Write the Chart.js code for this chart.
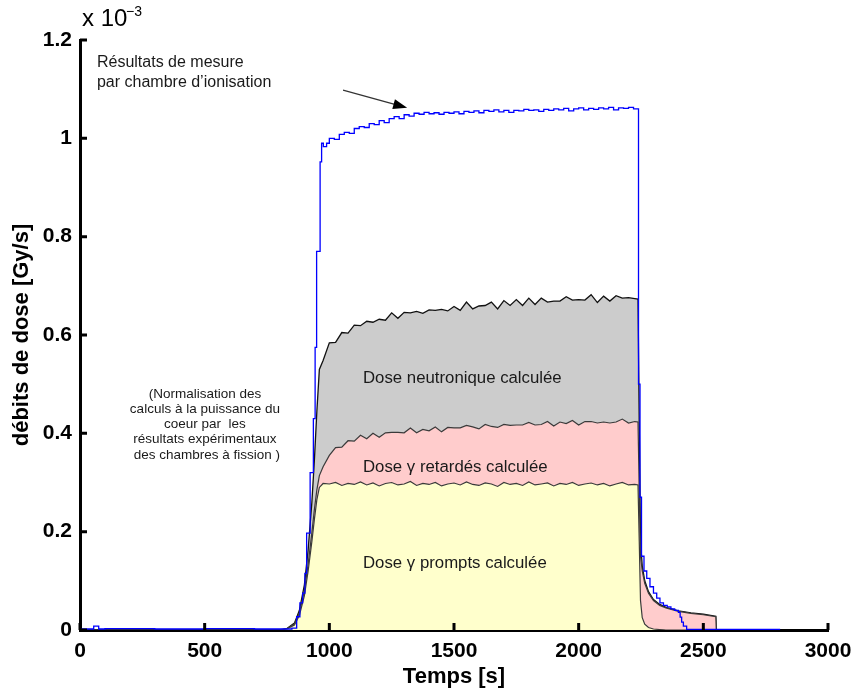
<!DOCTYPE html>
<html lang="fr">
<head>
<meta charset="utf-8">
<title>Débits de dose</title>
<script src="https://cdn.jsdelivr.net/npm/chart.js@4.4.1/dist/chart.umd.min.js"></script>
<style>
  body { margin: 0; background: #fff; }
</style>
</head>
<body>
<canvas id="graphe" width="854" height="692"></canvas>
<script>
// débits de dose en 1e-3 Gy/s, temps en s

const xTicks = [0, 500, 1000, 1500, 2000, 2500, 3000];
const xTickLabels = ['0', '500', '1000', '1500', '2000', '2500', '3000'];
const yTicks = [0, 0.2, 0.4, 0.6, 0.8, 1, 1.2];
const yTickLabels = ['0', '0.2', '0.4', '0.6', '0.8', '1', '1.2'];

// instants des calculs
const tCalc = [0, 800, 830, 860, 880, 900, 915, 930, 940, 950, 960, 975,
  1000, 1025, 1050, 1075, 1100, 1125, 1150, 1175, 1200, 1225,
  1250, 1275, 1300, 1325, 1350, 1375, 1400, 1425, 1450, 1475,
  1500, 1525, 1550, 1575, 1600, 1625, 1650, 1675, 1700, 1725,
  1750, 1775, 1800, 1825, 1850, 1875, 1900, 1925, 1950, 1975,
  2000, 2025, 2050, 2075, 2100, 2125, 2150, 2175, 2200, 2225,
  2238, 2243, 2248, 2255, 2265, 2280, 2300, 2325, 2350, 2400, 2450, 2500, 2550, 2552];

// dose gamma prompts
const gammaPrompts = [0, 0, 0.002, 0.01, 0.03, 0.07, 0.12, 0.18, 0.225, 0.265, 0.29, 0.298,
  0.297, 0.300, 0.294, 0.298, 0.296, 0.301, 0.295, 0.299, 0.293, 0.298,
  0.300, 0.295, 0.297, 0.302, 0.294, 0.298, 0.296, 0.300, 0.293, 0.297,
  0.299, 0.295, 0.301, 0.296, 0.294, 0.299, 0.297, 0.292, 0.300, 0.296,
  0.298, 0.294, 0.301, 0.295, 0.297, 0.299, 0.293, 0.298, 0.296, 0.300,
  0.294, 0.297, 0.299, 0.295, 0.298, 0.293, 0.297, 0.300, 0.295, 0.296,
  0.295, 0.18, 0.06, 0.025, 0.012, 0.005, 0.002, 0.001, 0, 0, 0, 0, 0, 0];

// dose gamma retardés
const gammaRetardes = [0, 0, 0.0005, 0.002, 0.005, 0.01, 0.014, 0.018, 0.02, 0.02, 0.024, 0.034,
  0.058, 0.071, 0.078, 0.087, 0.088, 0.095, 0.094, 0.101, 0.099, 0.103,
  0.102, 0.107, 0.104, 0.109, 0.107, 0.110, 0.109, 0.113, 0.110, 0.115,
  0.112, 0.116, 0.115, 0.117, 0.115, 0.119, 0.117, 0.120, 0.118, 0.120,
  0.119, 0.123, 0.121, 0.122, 0.121, 0.125, 0.122, 0.125, 0.124, 0.126,
  0.123, 0.127, 0.125, 0.126, 0.125, 0.128, 0.126, 0.129, 0.126, 0.128,
  0.128, 0.1, 0.09, 0.095, 0.083, 0.07, 0.058, 0.049, 0.045, 0.038, 0.034, 0.031, 0.027, 0];

// dose neutronique
const neutrons = [0, 0, 0.0005, 0.002, 0.005, 0.012, 0.029, 0.062, 0.1, 0.16, 0.216, 0.216,
  0.229, 0.214, 0.233, 0.219, 0.236, 0.223, 0.239, 0.226, 0.240, 0.229,
  0.243, 0.232, 0.245, 0.234, 0.247, 0.236, 0.246, 0.237, 0.249, 0.237,
  0.247, 0.239, 0.251, 0.240, 0.250, 0.242, 0.253, 0.241, 0.252, 0.244,
  0.255, 0.243, 0.253, 0.245, 0.257, 0.243, 0.254, 0.246, 0.258, 0.245,
  0.255, 0.247, 0.258, 0.245, 0.256, 0.248, 0.257, 0.246, 0.255, 0.250,
  0.25, 0.14, 0.03, 0.01, 0.005, 0.003, 0.002, 0.002, 0.001, 0.001, 0.001, 0.001, 0.001, 0];

// chambre d'ionisation
const tMesure = [0, 55, 75, 100, 300, 500, 700, 850, 869, 882, 893, 902, 909, 923, 936, 943, 949, 963, 969, 976, 989,
  1000, 1020, 1040, 1060, 1080, 1100, 1120, 1140, 1160, 1180,
  1200, 1220, 1240, 1260, 1280, 1300, 1320, 1340, 1360, 1380,
  1400, 1420, 1440, 1460, 1480, 1500, 1520, 1540, 1560, 1580,
  1600, 1620, 1640, 1660, 1680, 1700, 1720, 1740, 1760, 1780,
  1800, 1820, 1840, 1860, 1880, 1900, 1920, 1940, 1960, 1980,
  2000, 2020, 2040, 2060, 2080, 2100, 2120, 2140, 2160, 2180,
  2200, 2220,
  2240, 2246, 2252, 2262, 2273, 2286, 2300, 2313, 2326, 2340, 2355, 2370, 2385, 2400, 2407, 2413, 2420, 2433, 2808];
const mesure = [0.002, 0.008, 0.002, 0.003, 0.002, 0.003, 0.002, 0.004, 0.027, 0.055, 0.075, 0.115, 0.197, 0.32, 0.43, 0.575, 0.77, 0.952, 0.99, 0.983, 0.99,
  1.000, 0.998, 1.008, 1.012, 1.010, 1.020, 1.024, 1.022, 1.030, 1.028,
  1.036, 1.032, 1.040, 1.044, 1.040, 1.048, 1.045, 1.051, 1.049, 1.053,
  1.050, 1.052, 1.049, 1.053, 1.051, 1.054, 1.050, 1.055, 1.053, 1.056,
  1.052, 1.057, 1.055, 1.058, 1.054, 1.057, 1.053, 1.057, 1.056, 1.059,
  1.057, 1.058, 1.055, 1.059, 1.057, 1.060, 1.058, 1.061, 1.056, 1.060,
  1.062, 1.058, 1.061, 1.059, 1.062, 1.060, 1.063, 1.058, 1.062, 1.061,
  1.063, 1.060,
  0.50, 0.27, 0.15, 0.12, 0.105, 0.088, 0.075, 0.065, 0.055, 0.05, 0.047, 0.043, 0.04, 0.036, 0.026, 0.016, 0.008, 0.001, 0.001];

const pts = (ts, vs) => ts.map((t, i) => ({ x: t, y: vs[i] }));

const police = '"Liberation Sans", Arial, sans-serif';

// graduations vers l'intérieur, textes et flèche
const habillage = {
  id: 'habillage',
  afterDraw(chart) {
    const { ctx, chartArea: a, scales: { x, y } } = chart;
    ctx.save();
    ctx.strokeStyle = '#000';
    ctx.lineWidth = 3;
    ctx.beginPath();
    xTicks.forEach(v => {
      const px = x.getPixelForValue(v);
      ctx.moveTo(px, a.bottom);
      ctx.lineTo(px, a.bottom - 7);
    });
    yTicks.forEach(v => {
      const py = y.getPixelForValue(v);
      ctx.moveTo(a.left, py);
      ctx.lineTo(a.left + 7, py);
    });
    ctx.stroke();

    // facteur d'échelle
    ctx.fillStyle = '#000';
    ctx.textBaseline = 'middle';
    ctx.textAlign = 'left';
    ctx.font = '24px ' + police;
    ctx.fillText('x 10', a.left + 2, a.top - 21);
    ctx.font = '14px ' + police;
    ctx.fillText('\u22123', a.left + 46, a.top - 28);

    ctx.fillStyle = '#1a1a1a';
    ctx.font = '16px ' + police;
    ctx.fillText('Résultats de mesure', x.getPixelForValue(68), y.getPixelForValue(1.155));
    ctx.fillText('par chambre d\u2019ionisation', x.getPixelForValue(68), y.getPixelForValue(1.114));

    ctx.font = '16.8px ' + police;
    const xd = x.getPixelForValue(1135);
    ctx.fillText('Dose neutronique calculée', xd, y.getPixelForValue(0.512));
    ctx.fillText('Dose \u03b3 retardés calculée', xd, y.getPixelForValue(0.331));
    ctx.fillText('Dose \u03b3 prompts calculée', xd, y.getPixelForValue(0.136));

    ctx.textAlign = 'center';
    ctx.font = '13.5px ' + police;
    const xn = x.getPixelForValue(501);
    const lignes = ['(Normalisation des', 'calculs à la puissance du', 'coeur par  les',
      'résultats expérimentaux', ' des chambres à fission )'];
    const yl = [0.48, 0.449, 0.419, 0.388, 0.356];
    lignes.forEach((l, i) => ctx.fillText(l, xn, y.getPixelForValue(yl[i])));

    // flèche vers la mesure
    const x1 = x.getPixelForValue(1055), y1 = y.getPixelForValue(1.098);
    const x2 = x.getPixelForValue(1312), y2 = y.getPixelForValue(1.062);
    const ang = Math.atan2(y2 - y1, x2 - x1);
    ctx.strokeStyle = '#333';
    ctx.lineWidth = 1.2;
    ctx.beginPath();
    ctx.moveTo(x1, y1);
    ctx.lineTo(x2 - 10 * Math.cos(ang), y2 - 10 * Math.sin(ang));
    ctx.stroke();
    ctx.fillStyle = '#000';
    ctx.beginPath();
    ctx.moveTo(x2, y2);
    ctx.lineTo(x2 - 14 * Math.cos(ang) + 5 * Math.sin(ang), y2 - 14 * Math.sin(ang) - 5 * Math.cos(ang));
    ctx.lineTo(x2 - 14 * Math.cos(ang) - 5 * Math.sin(ang), y2 - 14 * Math.sin(ang) + 5 * Math.cos(ang));
    ctx.closePath();
    ctx.fill();
    ctx.restore();
  }
};

const ctx = document.getElementById('graphe').getContext('2d');
const graphe = new Chart(ctx, {
  type: 'line',
  data: {
    datasets: [{
      label: 'Mesure',
      data: pts(tMesure, mesure),
      stack: 'mesure',
      borderColor: '#0000ff',
      borderWidth: 1.3,
      stepped: true,
      fill: false
    }, {
      label: 'Dose gamma prompts',
      data: pts(tCalc, gammaPrompts),
      stack: 'calcul',
      borderColor: '#3a3a3a',
      borderWidth: 1.2,
      backgroundColor: '#ffffcc',
      fill: 'origin'
    }, {
      label: 'Dose gamma retardés',
      data: pts(tCalc, gammaRetardes),
      stack: 'calcul',
      borderColor: '#3a3a3a',
      borderWidth: 1.2,
      backgroundColor: '#ffcccc',
      fill: '-1'
    }, {
      label: 'Dose neutronique',
      data: pts(tCalc, neutrons),
      stack: 'calcul',
      borderColor: '#111',
      borderWidth: 1.3,
      backgroundColor: '#cccccc',
      fill: '-1'
    }]
  },
  options: {
    responsive: false,
    animation: false,
    devicePixelRatio: 1,
    elements: { point: { radius: 0 }, line: { tension: 0 } },
    layout: { padding: { top: 40, right: 26, left: 0, bottom: 0 } },
    plugins: { legend: { display: false }, tooltip: { enabled: false } },
    scales: {
      x: {
        type: 'linear',
        min: 0,
        max: 3000,
        afterBuildTicks: s => { s.ticks = xTicks.map(v => ({ value: v })); },
        afterFit: s => { s.height = 62; s.paddingLeft = 0; s.paddingRight = 0; },
        grid: { display: false, drawTicks: false },
        border: { display: true, color: '#000', width: 3 },
        ticks: {
          color: '#000',
          padding: 9,
          font: { family: police, size: 21, weight: 'bold' },
          callback: (v, i) => xTickLabels[i]
        },
        title: {
          display: true,
          text: 'Temps [s]',
          color: '#000',
          padding: { top: 0, bottom: 2 },
          font: { family: police, size: 22, weight: 'bold' }
        }
      },
      y: {
        stacked: true,
        min: 0,
        max: 1.2,
        afterBuildTicks: s => { s.ticks = yTicks.map(v => ({ value: v })); },
        afterFit: s => { s.width = 80; s.paddingTop = 0; s.paddingBottom = 0; },
        grid: { display: false, drawTicks: false },
        border: { display: true, color: '#000', width: 3 },
        ticks: {
          color: '#000',
          padding: 8,
          font: { family: police, size: 21, weight: 'bold' },
          callback: (v, i) => yTickLabels[i]
        },
        title: {
          display: true,
          text: 'débits de dose [Gy/s]',
          color: '#000',
          padding: { top: 9, bottom: 0 },
          font: { family: police, size: 22, weight: 'bold' }
        }
      }
    }
  },
  plugins: [habillage]
});
</script>
</body>
</html>
